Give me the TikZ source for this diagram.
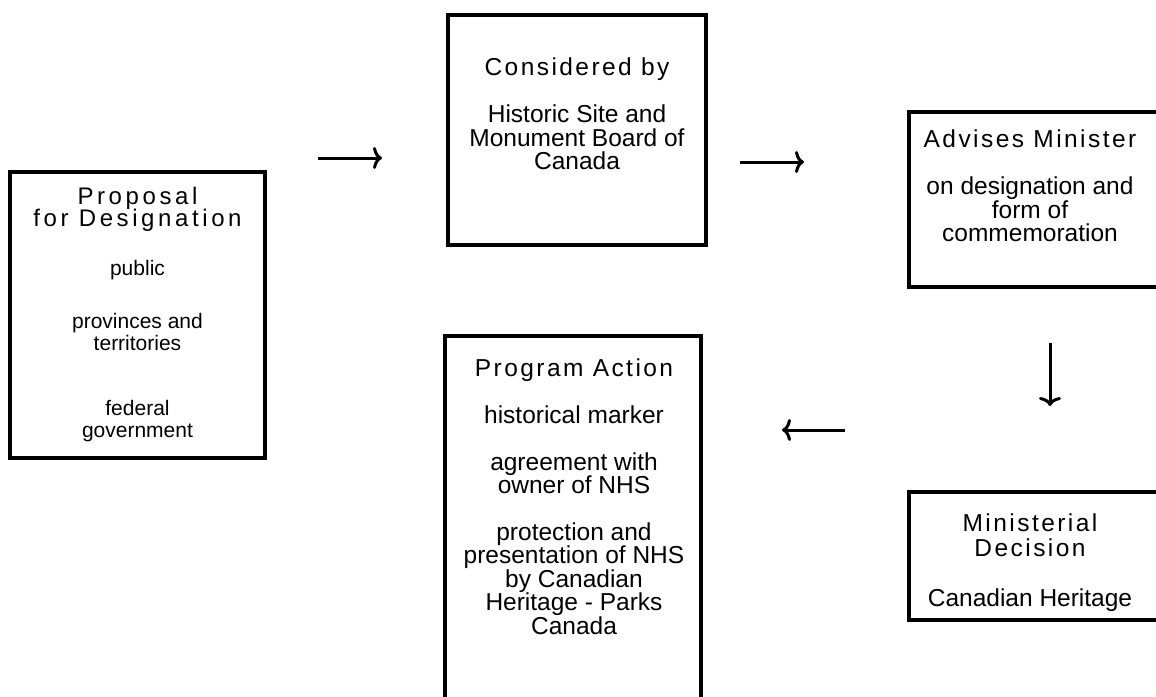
\documentclass[tikz,border=0pt]{standalone}
\usepackage{fontspec}
\setmainfont{Liberation Sans}
\newfontfamily\titlefont[LetterSpace=10]{Liberation Sans}
\newfontfamily\titlefontA[LetterSpace=15]{Liberation Sans}
\usetikzlibrary{arrows.meta}
\begin{document}
\begin{tikzpicture}[x=1pt,y=-1pt,
  boxframe/.style={draw=black,line width=3.5pt,inner sep=0pt},
  ttl/.style={anchor=base,inner sep=0pt,font=\titlefont\fontsize{24.5}{24}\selectfont},
  bdy/.style={anchor=base,inner sep=0pt,font=\fontsize{24.5}{24}\selectfont},
  ttlA/.style={anchor=base,inner sep=0pt,font=\titlefontA\fontsize{24}{24}\selectfont},
  bdyA/.style={anchor=base,inner sep=0pt,font=\fontsize{21}{24}\selectfont},
  arr/.style={line width=3pt,-{Computer Modern Rightarrow[length=9pt,width=22pt]}}]
\useasboundingbox (0,0) rectangle (1156,696);
\clip (0,0) rectangle (1156,696);
% boxes
\draw[boxframe] (10,172) rectangle (265,458);
\draw[boxframe] (448,15) rectangle (706,245);
\draw[boxframe] (909,112) rectangle (1160,287);
\draw[boxframe] (909,492) rectangle (1160,620);
\draw[boxframe] (445,336) rectangle (701,720);
% box A
\node[ttlA] (a1) at (137.5,204) {Proposal};
\node[ttlA] (a2) at (137.5,226) {for Designation};
\node[bdyA] (a3) at (137.5,275) {public};
\node[bdyA] (a4) at (137.5,328) {provinces and};
\node[bdyA] (a5) at (137.5,350) {territories};
\node[bdyA] (a6) at (137.5,415) {federal};
\node[bdyA] (a7) at (137.5,437) {government};
% box B
\node[ttl] (b1) at (577,75) {Considered by};
\node[bdy] (b2) at (577,122) {Historic Site and};
\node[bdy] (b3) at (577,146) {Monument Board of};
\node[bdy] (b4) at (577,169) {Canada};
% box C
\node[ttl] (c1) at (1030,147) {Advises Minister};
\node[bdy] (c2) at (1030,194) {on designation and};
\node[bdy] (c3) at (1030,218) {form of};
\node[bdy] (c4) at (1030,241) {commemoration};
% box D
\node[ttl] (d1) at (1030,531) {Ministerial};
\node[ttl] (d2) at (1030,556) {Decision};
\node[bdy] (d3) at (1030,606) {Canadian Heritage};
% box E
\node[ttl] (e1) at (574,376) {Program Action};
\node[bdy] (e2) at (574,423) {historical marker};
\node[bdy] (e3) at (574,470) {agreement with};
\node[bdy] (e4) at (574,493) {owner of NHS};
\node[bdy] (e5) at (574,540) {protection and};
\node[bdy] (e6) at (574,563.5) {presentation of NHS};
\node[bdy] (e7) at (574,587) {by Canadian};
\node[bdy] (e8) at (574,610.5) {Heritage - Parks};
\node[bdy] (e9) at (574,634) {Canada};
% arrows
\coordinate (p1) at (318,158);
\coordinate (q1) at (382,158);
\coordinate (p2) at (740,162);
\coordinate (q2) at (804,162);
\coordinate (p3) at (1050,343);
\coordinate (q3) at (1050,406);
\coordinate (p4) at (845,430);
\coordinate (q4) at (782,430);
\draw[arr] (p1) -- (q1);
\draw[arr] (p2) -- (q2);
\draw[arr] (p3) -- (q3);
\draw[arr] (p4) -- (q4);
\end{tikzpicture}
\end{document}
